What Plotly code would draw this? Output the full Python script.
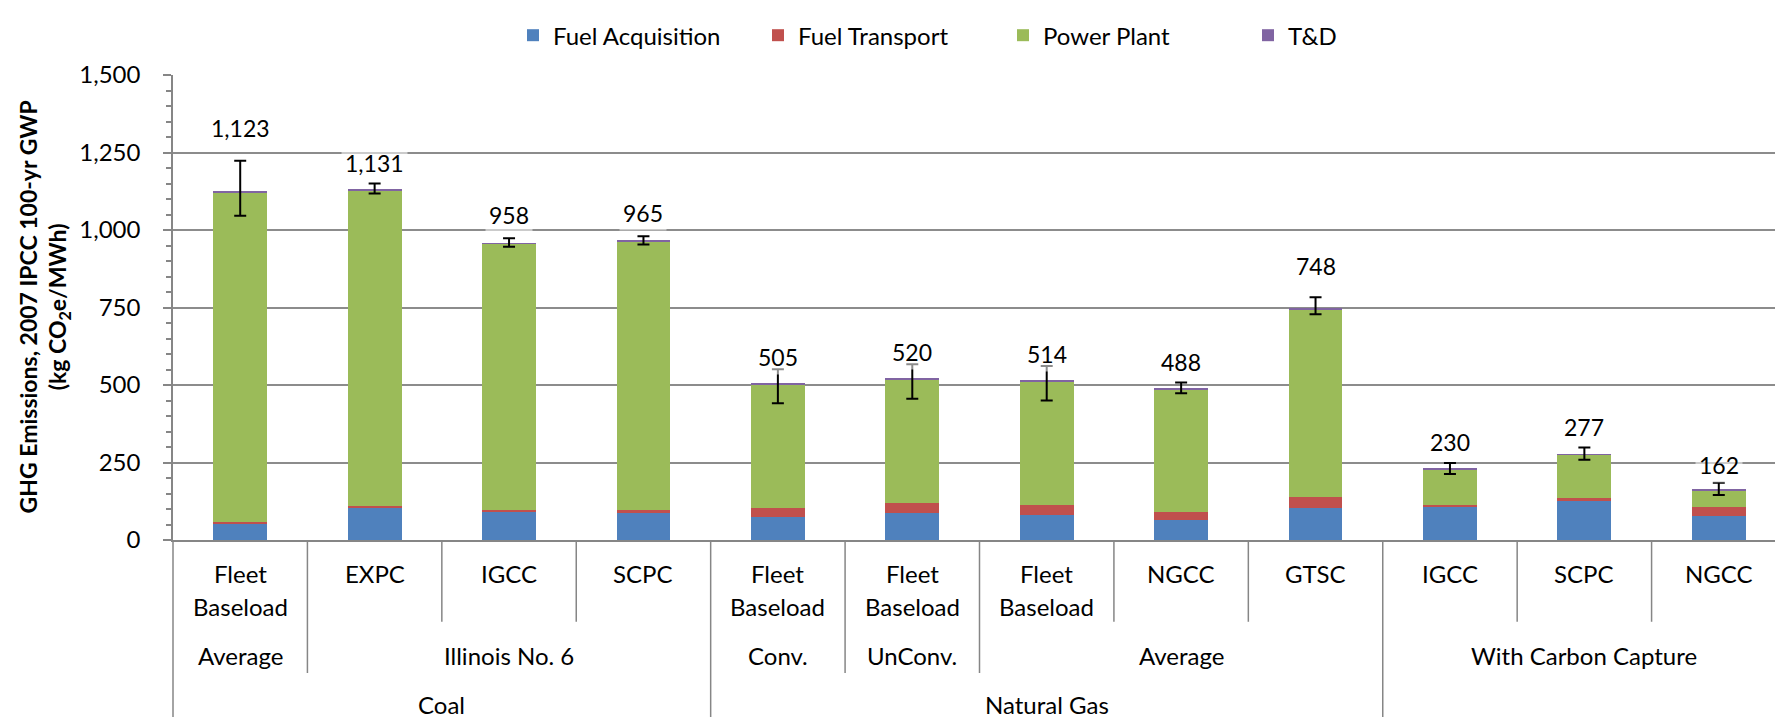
import plotly.graph_objects as go

# ---------------- data ----------------
tech = ["Fleet Baseload", "EXPC", "IGCC", "SCPC", "Fleet Baseload", "Fleet Baseload",
        "Fleet Baseload", "NGCC", "GTSC", "IGCC", "SCPC", "NGCC"]
source = ["Average", "Illinois No. 6", "Illinois No. 6", "Illinois No. 6", "Conv.", "UnConv.",
          "Average", "Average", "Average", "With Carbon Capture", "With Carbon Capture",
          "With Carbon Capture"]
fuel = ["Coal", "Coal", "Coal", "Coal", "Natural Gas", "Natural Gas", "Natural Gas",
        "Natural Gas", "Natural Gas", "", "", ""]

fuel_acquisition = [52, 105, 92, 90, 74, 88, 82, 66, 104, 107, 129, 79]
fuel_transport = [5, 5, 6, 6, 29, 30, 30, 23, 35, 6, 6, 26]
power_plant = [1063, 1018, 857, 866, 400, 400, 400, 397, 606, 115, 140, 55]
t_and_d = [3, 3, 3, 3, 2, 2, 2, 2, 3, 2, 2, 2]
totals = [1123, 1131, 958, 965, 505, 520, 514, 488, 748, 230, 277, 162]
err_plus = [100, 19, 15, 15, 46, 47, 47, 20, 35, 18, 21, 23]
err_minus = [77, 13, 12, 12, 64, 64, 64, 15, 20, 17, 18, 17]

y_ticks = [0, 250, 500, 750, 1000, 1250, 1500]

# label offsets above error bar tops (px)
label_shift = [33, 21, 23, 23, 12, 12, 12, 21, 31, 21, 21, 18]

FONT = "Lato"
GRAY = "#868686"
idx = list(range(len(tech)))
n = len(tech)

fig = go.Figure()
series = [("Fuel Acquisition", fuel_acquisition, "#4F81BD"),
          ("Fuel Transport", fuel_transport, "#C0504D"),
          ("Power Plant", power_plant, "#9BBB59"),
          ("T&D", t_and_d, "#8064A2")]
for name, vals, col in series:
    fig.add_trace(go.Bar(x=idx, y=vals, name=name, width=0.4,
                         marker=dict(color=col, line=dict(width=0)),
                         hoverinfo="skip"))

fig.add_trace(go.Scatter(x=idx, y=totals, mode="markers", marker=dict(opacity=0),
                         showlegend=False, hoverinfo="skip",
                         error_y=dict(type="data", symmetric=False, array=err_plus,
                                      arrayminus=err_minus, color="black",
                                      thickness=2, width=6)))

annotations = []
# data labels
for i in idx:
    annotations.append(dict(x=i, y=totals[i] + err_plus[i], xref="x", yref="y",
                            text=f"{totals[i]:,}", showarrow=False, yshift=label_shift[i],
                            yanchor="middle", font=dict(family=FONT, size=23, color="black"),
                            bgcolor="rgba(255,255,255,0.55)", borderpad=3))

# plot geometry in px (for paper conversions)
plot_left, plot_right = 165, 1778
plot_top, plot_bottom = 60, 532
plot_h = plot_bottom - plot_top
plot_w = plot_right - plot_left


def py(px):
    return (plot_bottom - px) / plot_h


def pxx(px):
    return (px - plot_left) / plot_w


lab_font = dict(family=FONT, size=24, color="black")
# level 1 labels
for i in idx:
    lines = tech[i].split(" ") if tech[i] == "Fleet Baseload" else [tech[i]]
    for k, line in enumerate(lines):
        annotations.append(dict(x=(i + 0.5) / n, y=py(566 + 33 * k), xref="paper", yref="paper",
                                text=line, showarrow=False, xanchor="center", yanchor="middle",
                                font=lab_font))


def runs(labels, parent=None):
    out = []
    start = 0
    for i in range(1, len(labels) + 1):
        if (i == len(labels) or labels[i] != labels[start]
                or (parent is not None and parent[i] != parent[start])):
            out.append((start, i, labels[start]))
            start = i
    return out


for s, e, lab in runs(source, fuel):
    annotations.append(dict(x=(s + e) / 2 / n, y=py(649), xref="paper", yref="paper",
                            text=lab, showarrow=False, xanchor="center", yanchor="middle",
                            font=lab_font))
for s, e, lab in runs(fuel):
    if lab:
        annotations.append(dict(x=(s + e) / 2 / n, y=py(699), xref="paper", yref="paper",
                                text=lab, showarrow=False, xanchor="center", yanchor="middle",
                                font=lab_font))

# y-axis title
annotations.append(dict(x=pxx(36), y=0.5, xref="paper", yref="paper",
                        text="GHG Emissions, 2007 IPCC 100-yr GWP<br>(kg CO<sub>2</sub>e/MWh)",
                        showarrow=False, textangle=-90, xanchor="center", yanchor="middle",
                        font=dict(family=FONT, size=23, color="black", weight="bold")))

# separators
shapes = []
depth1, depth2, depth3 = py(615), py(667), py(717)
for b in range(n + 1):
    if b == 0 or b == n:
        d = depth3
    elif fuel[b] != fuel[b - 1]:
        d = depth3
    elif source[b] != source[b - 1]:
        d = depth2
    else:
        d = depth1
    shapes.append(dict(type="line", xref="paper", yref="paper", x0=b / n, x1=b / n,
                       y0=0, y1=d, line=dict(color=GRAY, width=1.5)))

fig.update_layout(
    width=1783, height=717,
    margin=dict(l=165, r=5, t=60, b=185),
    barmode="stack",
    plot_bgcolor="white", paper_bgcolor="white",
    font=dict(family=FONT, size=22, color="black"),
    legend=dict(orientation="h", x=pxx(505), xanchor="left",
                y=py(20), yanchor="middle", font=dict(family=FONT, size=24),
                traceorder="normal", entrywidth=200, entrywidthmode="pixels"),
    xaxis=dict(range=[-0.5, n - 0.5], showticklabels=False, showgrid=False,
               zeroline=False, showline=True, linecolor=GRAY, linewidth=1.5, ticks=""),
    yaxis=dict(range=[0, 1500], tickvals=y_ticks, tickformat=",d", showgrid=True,
               gridcolor="#8c8c8c", gridwidth=1.5, zeroline=False, showline=True,
               linecolor=GRAY, linewidth=1.5, ticks="outside", ticklen=8, tickcolor=GRAY,
               tickwidth=1.5, ticklabelstandoff=18,
               tickfont=dict(family=FONT, size=24, color="black"),
               minor=dict(dtick=50, ticks="outside", ticklen=5, tickcolor=GRAY,
                          tickwidth=1.5, showgrid=False)),
    annotations=annotations,
    shapes=shapes,
    showlegend=True,
)

fig.write_html("out.html")
